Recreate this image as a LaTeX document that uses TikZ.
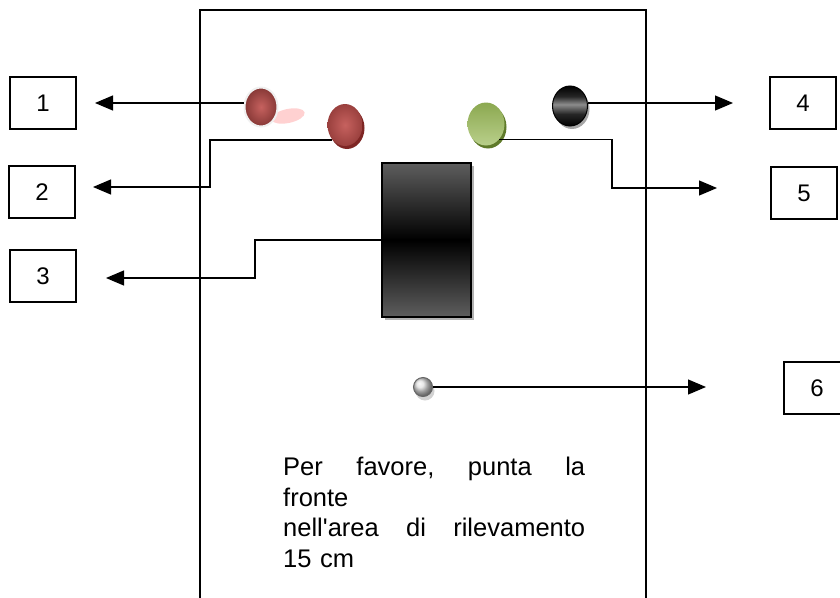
\documentclass[tikz,border=0pt]{standalone}
\usepackage{fontspec}
\setmainfont{Liberation Sans}
\usetikzlibrary{calc}
\usetikzlibrary{positioning}
\usetikzlibrary{shapes.geometric}
\usetikzlibrary{shadows}
\usetikzlibrary{arrows.meta}
\definecolor{ballred}{HTML}{C0504D}
\definecolor{balldark}{HTML}{7E2624}
\definecolor{ballgreen}{HTML}{9BBB59}
\definecolor{greendark}{HTML}{5F7A2A}
\definecolor{sensorgray}{HTML}{5E5E5E}
\pgfdeclareverticalshading{sensorband}{100bp}{color(0bp)=(sensorgray); color(25bp)=(sensorgray); color(50bp)=(black); color(75bp)=(sensorgray); color(100bp)=(sensorgray)}
\pgfdeclareverticalshading{blackband}{100bp}{color(0bp)=(black); color(25bp)=(black); color(40bp)=(black!85); color(52bp)=(black!45); color(62bp)=(black!85); color(75bp)=(black); color(100bp)=(black)}
\tikzstyle{numbox} = [draw, rectangle, line width=1.1pt, minimum width=66pt, minimum height=52pt, inner sep=0pt, font=\fontsize{24}{24}\selectfont]
\tikzstyle{ballnode} = [ellipse, inner sep=0pt]
\tikzstyle{conn} = [line width=1.2pt, -{Triangle[length=18pt,width=15pt]}]

\begin{document}
\begin{tikzpicture}[x=1pt,y=-1pt]
\useasboundingbox (0,0) rectangle (840,597);
% housing
\draw[line width=1.6pt] (200,620) -- (200,10) -- (646,10) -- (646,620);

% number boxes
\node[numbox] (n1) at (43,103) {1};
\node[numbox] (n2) at (42,192) {2};
\node[numbox] (n3) at (43,276) {3};
\node[numbox] (n4) at (803,103) {4};
\node[numbox] (n5) at (804,193) {5};
\node[numbox] (n6) at (817,388) {6};

% lamps and sensor
\fill[red!30, opacity=0.6, rotate around={12:(288,116)}] (288,116) ellipse [x radius=17pt, y radius=7pt];
\node[ballnode, minimum width=33pt, minimum height=39pt, draw=gray!12, line width=2pt, inner color=ballred!90!white, outer color=ballred!70!black] (red_a) at (261,107) {};
\node[ballnode, minimum width=35pt, minimum height=42pt, inner color=ballred!90!white, outer color=ballred!80!black, drop shadow={shadow xshift=2pt, shadow yshift=-3pt, fill=balldark, opacity=1}] (red_b) at (345,125) {};
\node[ballnode, minimum width=37pt, minimum height=43pt, top color=ballgreen!90!black, bottom color=ballgreen!70!white, drop shadow={shadow xshift=2pt, shadow yshift=-3pt, fill=greendark, opacity=1}] (green_c) at (486,124) {};
\node[ballnode, minimum width=35pt, minimum height=40pt, draw=black, line width=1pt, shading=blackband, drop shadow={shadow xshift=2pt, shadow yshift=-3pt, fill=gray!70, opacity=1}] (black_d) at (570,106) {};
\node[rectangle, draw=black, line width=2pt, minimum width=89pt, minimum height=154pt, shading=sensorband, drop shadow={shadow xshift=3pt, shadow yshift=-3pt, fill=gray!60, opacity=1}] (sensor) at (426,240) {};
\draw[line width=1.5pt] (sensor.west) -- (sensor.east);
\node[circle, minimum size=19pt, inner sep=0pt, draw=gray!80!black, line width=1pt, ball color=gray!25, drop shadow={shadow xshift=2pt, shadow yshift=-4pt, fill=gray!35, opacity=1}] (dot_f) at (423,387) {};

% arrow tips
\coordinate (tip_a) at (95,103);
\coordinate (tip_b) at (93,187);
\coordinate (tip_c) at (106,278);
\coordinate (tip_d) at (733,103);
\coordinate (tip_e) at (717,188);
\coordinate (tip_f) at (706,387);

% connectors
\draw[conn] (red_a.west |- tip_a) -- (tip_a);
\draw[conn] (red_b.south west) -| ($(tip_b)+(117,0)$) -- (tip_b);
\draw[conn] (sensor.west) -| ($(tip_c)+(149,0)$) -- (tip_c);
\draw[conn] (black_d.east |- tip_d) -- (tip_d);
\draw[conn] (green_c.south east) -| ($(tip_e)+(-105,0)$) -- (tip_e);
\draw[conn] (dot_f.east) -- (tip_f);

% message
\node[anchor=north west, text width=302pt, inner sep=0pt, align=left, font=\fontsize{25.5}{30.5}\selectfont] (msg) at (283,457) {\leavevmode\hbox to 302pt{Per\hfill favore,\hfill punta\hfill la}\\fronte\\\leavevmode\hbox to 302pt{nell\textquotesingle area\hfill di\hfill rilevamento}\\15 cm};
\end{tikzpicture}
\end{document}
